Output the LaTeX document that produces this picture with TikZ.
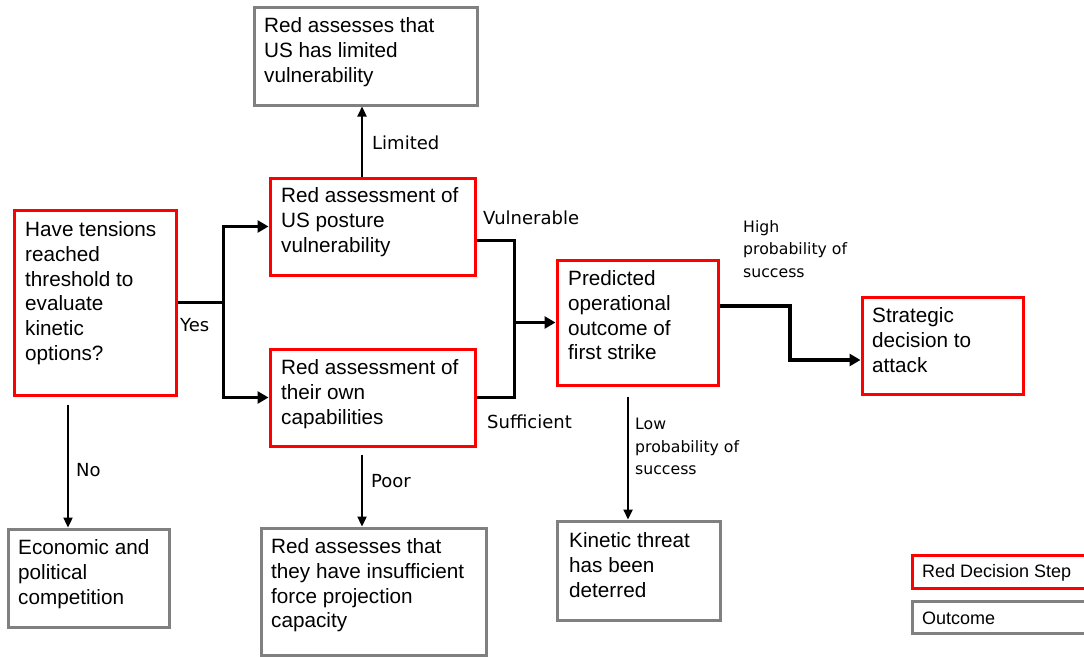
\documentclass[tikz,border=0pt]{standalone}
\usepackage{fontspec}
\setmainfont{Liberation Sans}
\newfontfamily\lblfont{DejaVu Sans}
\usetikzlibrary{arrows.meta,calc}
\definecolor{redc}{RGB}{255,0,0}
\definecolor{grayc}{RGB}{128,128,128}
\tikzset{
  redbox/.style={draw=redc,line width=3pt,rectangle,inner sep=0pt},
  graybox/.style={draw=grayc,line width=3pt,rectangle,inner sep=0pt},
  boxtext/.style={anchor=north west,inner sep=0pt,align=left,font=\fontsize{20.7}{24.7}\selectfont},
  lbl/.style={anchor=west,inner sep=0pt,font=\lblfont\fontsize{18}{20}\selectfont},
  smalllbl/.style={anchor=north west,inner sep=0pt,align=left,font=\lblfont\fontsize{15.7}{22.5}\selectfont},
  legtext/.style={anchor=west,inner sep=0pt,font=\fontsize{18}{20}\selectfont},
  thickarrow/.style={line width=3.4pt,-{Triangle[length=11pt,width=12pt]}},
  thickline/.style={line width=3.4pt},
  thinarrow/.style={line width=2.3pt,-{Triangle[length=10pt,width=9pt]}},
}
\newcommand{\boxat}[6]{\node[#1,minimum width={#4-#2},minimum height={#5-#3}] (#6) at ({(#2+#4)/2},{(#3+#5)/2}) {};}
\begin{document}
\begin{tikzpicture}[x=1pt,y=-1pt]
\clip (0,0) rectangle (1084,656);
\fill[white] (0,0) rectangle (1084,656);
% boxes
\boxat{redbox}{14}{210}{176}{395}{q}
\boxat{redbox}{270}{178}{475}{275}{us}
\boxat{redbox}{270}{349}{475}{446}{own}
\boxat{redbox}{557}{260}{718}{385}{pred}
\boxat{redbox}{862}{297}{1023}{394}{strat}
\boxat{graybox}{254}{7}{477}{105}{lim}
\boxat{graybox}{8}{529}{169}{627}{econ}
\boxat{graybox}{261}{528}{486}{655}{insuf}
\boxat{graybox}{557}{521}{720}{620}{kin}
\boxat{redbox}{912}{555}{1100}{588}{legred}
\boxat{graybox}{912}{601}{1100}{633}{leggray}
% box texts
\node[boxtext] at (25,221.5) {Have tensions\\reached\\threshold to\\evaluate\\kinetic\\options?};
\node[boxtext] at (281,187.5) {Red assessment of\\US posture\\vulnerability};
\node[boxtext] at (281,359.5) {Red assessment of\\their own\\capabilities};
\node[boxtext] at (264,17.5) {Red assesses that\\US has limited\\vulnerability};
\node[boxtext] at (568,270.5) {Predicted\\operational\\outcome of\\first strike};
\node[boxtext] at (872,307.5) {Strategic\\decision to\\attack};
\node[boxtext] at (18,539.5) {Economic and\\political\\competition};
\node[boxtext] at (271,538.5) {Red assesses that\\they have insufficient\\force projection\\capacity};
\node[boxtext] at (569,532.5) {Kinetic threat\\has been\\deterred};
\node[legtext] at (922,573) {Red Decision Step};
\node[legtext] at (922,618) {Outcome};
% connectors
\coordinate (yb) at ($(q.east)+(46,0)$);
\draw[thickline] (q.east) -- (yb);
\draw[thickarrow] (yb) |- (us.west);
\draw[thickarrow] (yb) |- (own.west);
\coordinate (usr) at ($(us.south east)+(0,-36)$);
\coordinate (jn) at ($(pred.west)+(-41,0)$);
\draw[thickline] (usr) -| (jn |- own.east) -- (own.east);
\draw[thickarrow] (jn) -- (pred.west);
\coordinate (pr) at ($(pred.east)+(0,-16.5)$);
\coordinate (sl) at ($(strat.west)+(0,14.5)$);
\coordinate (prmid) at ($(pr)!0.5!(sl)$);
\draw[thickarrow] (pr) -| (prmid) |- (sl);
\coordinate (a1) at ($(us.north)+(-10.5,0)$);
\coordinate (a2) at ($(own.south)+(-10.5,7)$);
\coordinate (a3) at ($(q.south)+(-27,8)$);
\coordinate (a4) at ($(pred.south)+(-9.5,10)$);
\draw[thinarrow] (a1) -- (a1 |- lim.south);
\draw[thinarrow] (a2) -- (a2 |- insuf.north);
\draw[thinarrow] (a3) -- (a3 |- econ.north);
\draw[thinarrow] (a4) -- (a4 |- kin.north);
% labels
\node[lbl] at (180,325) {Yes};
\node[lbl] at (483,218) {Vulnerable};
\node[lbl] at (487,422) {Sufficient};
\node[lbl] at (372,143) {Limited};
\node[lbl] at (371,481) {Poor};
\node[lbl] at (76,470) {No};
\node[smalllbl] at (635,418) {Low\\probability of\\success};
\node[smalllbl] at (743,220) {High\\probability of\\success};
\end{tikzpicture}
\end{document}
